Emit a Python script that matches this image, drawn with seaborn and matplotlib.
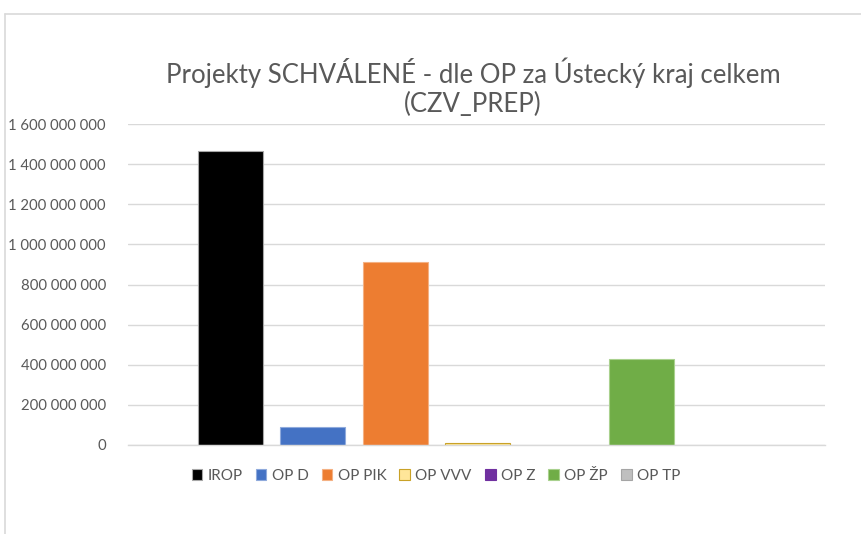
import matplotlib
matplotlib.use("Agg")
import matplotlib.pyplot as plt
from matplotlib.ticker import FuncFormatter, MultipleLocator
from matplotlib.patches import Rectangle
from matplotlib.lines import Line2D
import seaborn as sns
import pandas as pd

# Data
categories = ["IROP", "OP D", "OP PIK", "OP VVV", "OP Z", "OP ŽP", "OP TP"]
values = [1463000000, 90000000, 911000000, 8500000, 0, 427000000, 0]
colors = ["#000000", "#4472C4", "#ED7D31", "#FFE699", "#7030A0", "#70AD47", "#BFBFBF"]
edges = ["#A6A6A6", "#8FAADC", "#F4B183", "#C9A227", "#7030A0", "#A9D18E", "#A5A5A5"]
title = "Projekty SCHVÁLENÉ - dle OP za Ústecký kraj celkem\n(CZV_PREP)"

df = pd.DataFrame({"op": categories, "value": values})

sns.set_theme(style="white")
plt.rcParams["font.family"] = ["Lato", "DejaVu Sans"]
text_color = "#595959"
grid_color = "#D9D9D9"

fig = plt.figure(figsize=(8.62, 5.34), dpi=100)
ax = fig.add_axes([128 / 862, 1 - 445 / 534, (825 - 128) / 862, (445 - 124) / 534])

sns.barplot(data=df, x="op", y="value", hue="op", palette=colors,
            order=categories, hue_order=categories, dodge=False,
            width=0.79, legend=False, ax=ax, saturation=1)

for patch, ec, v in zip(ax.patches, edges, values):
    patch.set_edgecolor(ec)
    patch.set_linewidth(0.8 if v > 0 else 0)

ax.set_xlim(-1.25, 7.23)
ax.set_ylim(0, 1600000000)
ax.yaxis.set_major_locator(MultipleLocator(200000000))
ax.yaxis.set_major_formatter(FuncFormatter(lambda v, p: f"{v:,.0f}".replace(",", " ")))
ax.set_xticks([])
ax.set_xlabel("")
ax.set_ylabel("")
ax.tick_params(axis="y", length=0, pad=16, labelsize=10.7, labelcolor=text_color)
ax.grid(axis="y", color=grid_color, linewidth=1)
ax.set_axisbelow(True)
for s in ["top", "right", "left"]:
    ax.spines[s].set_visible(False)
ax.spines["bottom"].set_color(grid_color)
ax.spines["bottom"].set_linewidth(1)

fig.text(473 / 862, 1 - 87 / 534, title, ha="center", va="center",
         fontsize=18.5, color=text_color, linespacing=1.2)

handles = [Rectangle((0, 0), 1, 1, facecolor=c, edgecolor=e, linewidth=0.8)
           for c, e in zip(colors, edges)]
leg = fig.legend(handles, categories, loc="center", bbox_to_anchor=(436 / 862, 1 - 476 / 534),
                 ncol=7, frameon=False, fontsize=11, handlelength=0.7, handleheight=0.7,
                 handletextpad=0.35, columnspacing=0.85, labelcolor=text_color)

# chart area frame
fig.add_artist(Line2D([5 / 862, 1.0], [1 - 14 / 534, 1 - 14 / 534], color=grid_color, linewidth=1.2))
fig.add_artist(Line2D([5 / 862, 5 / 862], [0, 1 - 14 / 534], color=grid_color, linewidth=1.2))

fig.savefig("out.png", dpi=100)
